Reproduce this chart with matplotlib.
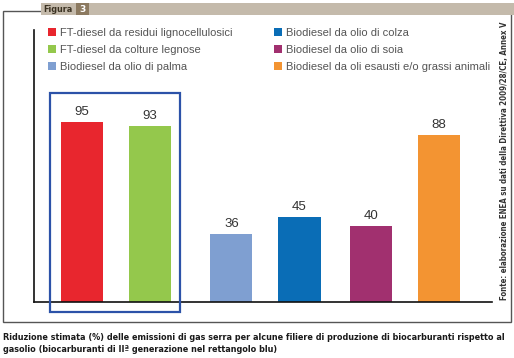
import matplotlib
matplotlib.use("Agg")
import matplotlib.pyplot as plt
from matplotlib.patches import Rectangle

# data
labels = [
    "FT-diesel da residui lignocellulosici",
    "FT-diesel da colture legnose",
    "Biodiesel da olio di palma",
    "Biodiesel da olio di colza",
    "Biodiesel da olio di soia",
    "Biodiesel da oli esausti e/o grassi animali",
]
values = [95, 93, 36, 45, 40, 88]
colors = ["#e8262e", "#94c84c", "#7f9fd1", "#0a6db6", "#a1306f", "#f39432"]
positions = [0, 1, 2.2, 3.2, 4.25, 5.25]

W, H = 514, 358
fig = plt.figure(figsize=(W / 100, H / 100), dpi=100)

def fx(px):
    return px / W

def fy(py):
    return 1 - py / H

# outer frame
fig.patches.append(Rectangle((fx(3), fy(322)), fx(508), (322 - 11) / H, transform=fig.transFigure,
                             fill=False, edgecolor="#555555", lw=1.0, zorder=1))
# header band
fig.patches.append(Rectangle((fx(41), fy(15)), 1 - fx(41), 12 / H, transform=fig.transFigure,
                             facecolor="#c4baab", edgecolor="none", zorder=2))
fig.patches.append(Rectangle((fx(76), fy(15)), 13 / W, 12 / H, transform=fig.transFigure,
                             facecolor="#8c7a60", edgecolor="none", zorder=3))
fig.text(fx(58), fy(9), "Figura", fontsize=6.5, fontweight="bold", color="#3b3222",
         ha="center", va="center", fontstretch="condensed", zorder=4)
fig.text(fx(82.5), fy(9), "3", fontsize=6.5, fontweight="bold", color="white",
         ha="center", va="center", zorder=4)

ax = fig.add_axes([fx(34), fy(302), (492 - 34) / W, (302 - 30) / H])
ax.set_facecolor("none")
bars = ax.bar(positions, values, width=0.62, color=colors, label=labels, zorder=2)
for b, v in zip(bars, values):
    ax.text(b.get_x() + b.get_width() / 2, v + 2, str(v), ha="center", va="bottom",
            fontsize=9.5, color="#333333", family="Liberation Sans")

ax.set_xlim(-0.7, 6.03)
ax.set_ylim(0, 143.5)
ax.set_xticks([])
ax.set_yticks([])
for s in ["top", "right"]:
    ax.spines[s].set_visible(False)
for s in ["left", "bottom"]:
    ax.spines[s].set_linewidth(1.2)
    ax.spines[s].set_color("#111111")

# blue rectangle around second-generation biofuels
ax.add_patch(Rectangle((-0.47, -5.3), 1.91, 115.6, fill=False, edgecolor="#2c52a8",
                       lw=1.6, clip_on=False, zorder=3))

leg = fig.legend(handles=bars, labels=labels, ncol=2, loc="upper left",
                 bbox_to_anchor=(fx(38), fy(17.5)), frameon=False,
                 handlelength=0.7, handleheight=0.7, handletextpad=0.35,
                 labelspacing=0.65, columnspacing=3.8,
                 prop={"family": "Liberation Sans", "size": 8.0})
for t in leg.get_texts():
    t.set_color("#555555")

fig.text(fx(505), fy(161), "Fonte: elaborazione ENEA su dati della Direttiva 2009/28/CE, Annex V",
         rotation=90, ha="center", va="center", fontsize=5.7, fontweight="bold",
         color="#333333", fontstretch="condensed")

fig.text(fx(3), fy(338), "Riduzione stimata (%) delle emissioni di gas serra per alcune filiere di "
         "produzione di biocarburanti rispetto al", fontsize=6.5, fontweight="bold",
         color="#1a1a1a", va="center", fontstretch="condensed")
fig.text(fx(3), fy(350), "gasolio (biocarburanti di II\u00aa generazione nel rettangolo blu)",
         fontsize=6.5, fontweight="bold", color="#1a1a1a", va="center", fontstretch="condensed")

fig.savefig("out.png", dpi=100)
